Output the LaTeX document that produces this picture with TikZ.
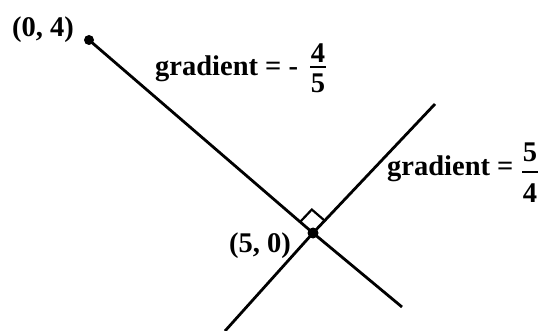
\documentclass[tikz,border=0pt]{standalone}
\usepackage{fontspec}
\setmainfont{Liberation Serif}
\usetikzlibrary{calc}
\begin{document}
\begin{tikzpicture}[x=1pt,y=-1pt,
  lbl/.style={font=\fontsize{28.5}{30}\selectfont\bfseries, inner sep=0pt},
  ln/.style={line width=2.8pt},
  dotc/.style={circle, fill=black, inner sep=0pt, minimum size=10pt},
  fbar/.style={line width=1.8pt}]
\useasboundingbox (0,0) rectangle (538,331);
\node[dotc] (A) at (89,40) {};
\node[dotc, minimum size=11pt] (B) at (313,233) {};
\coordinate (E1) at (402,307);
\coordinate (L2a) at (225,331);
\coordinate (L2b) at (435,104);
\draw[ln] (A.center) -- (B.center) -- (E1);
\draw[ln] (L2a) -- (B.center) -- (L2b);
\coordinate (ra1) at ($(B.center)!17pt!(A.center)$);
\coordinate (ra2) at ($(B.center)!17pt!(L2b)$);
\coordinate (ra3) at ($(ra1)+(ra2)-(B.center)$);
\draw[line width=2.2pt] (ra1) -- (ra3) -- (ra2);
\node[lbl, anchor=base west] (c04) at (12,37) {(0, 4)};
\node[lbl, anchor=base west] (g1) at (155,76) {gradient = -};
\node[lbl, anchor=base] (n1) at (318,63) {4};
\draw[fbar] (310,67) -- (326,67);
\node[lbl, anchor=base] (d1) at (318,93) {5};
\node[lbl, anchor=base west] (g2) at (387,176) {gradient =};
\node[lbl, anchor=base] (n2) at (530,162) {5};
\draw[fbar] (522,172) -- (538,172);
\node[lbl, anchor=base] (d2) at (530,203) {4};
\node[lbl, anchor=base west] (c50) at (229,252) {(5, 0)};
\end{tikzpicture}
\end{document}
